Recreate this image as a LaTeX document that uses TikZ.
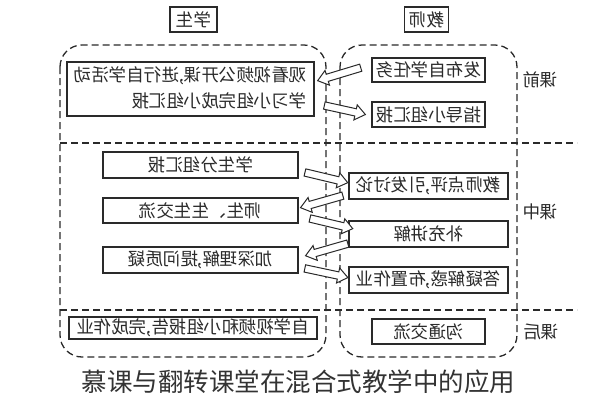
\documentclass[tikz,border=0pt]{standalone}
\usepackage{fontspec}
\usepackage{graphicx}
\newfontfamily\cjk{Noto Sans CJK SC}
\usetikzlibrary{shapes.arrows}
\definecolor{ink}{HTML}{2A2A2A}
\newcommand{\mir}[1]{\reflectbox{#1}}
\begin{document}
\begin{tikzpicture}[x=1pt,y=-1pt,
  every node/.style={font=\cjk\fontsize{17.5}{26}\selectfont, text=ink},
  tbox/.style={draw=ink, line width=1.1pt, inner sep=0pt, align=center},
  region/.style={draw=ink, line width=1.3pt, dash pattern=on 7pt off 4pt, rounded corners=22pt},
  sep/.style={draw=ink, line width=1.3pt, dash pattern=on 7pt off 4pt},
  barrow/.style={single arrow, draw=ink, fill=white, line width=1pt, inner sep=3.2pt,
    single arrow head extend=4pt, single arrow tip angle=75, minimum width=15pt, minimum height=44pt},
  lbl/.style={inner sep=0pt}
]
\useasboundingbox (0,0) rectangle (597,400);

% regions and separators
\draw[region] (60,45) rectangle (326,357);
\draw[region] (340,45) rectangle (517,357);
\coordinate (s1a) at (60,143); \coordinate (s1b) at (577,143);
\coordinate (s2a) at (60,310); \coordinate (s2b) at (577,310);
\draw[sep] (s1a) -- (s1b);
\draw[sep] (s2a) -- (s2b);

% headers
\node[tbox, minimum width=47pt, minimum height=25pt] (hs) at (193.5,19.5) {\mir{学生}};
\node[tbox, minimum width=44pt, minimum height=25pt] (ht) at (426.5,19.5) {\mir{教师}};

% student boxes
\node[tbox, minimum width=247pt, minimum height=54pt] (sA) at (190.5,89)
  {\mir{\begin{tabular}{@{}l@{}}观看视频公开课,进行自学活动\\学习小组完成小组汇报\end{tabular}}};
\node[tbox, minimum width=195pt, minimum height=26pt] (sB) at (200.5,165) {\mir{学生分组汇报}};
\node[tbox, minimum width=195pt, minimum height=25pt] (sC) at (200.5,210.5) {\mir{师生、生生交流}};
\node[tbox, minimum width=195pt, minimum height=26pt] (sD) at (200.5,260) {\mir{加深理解,提问质疑}};
\node[tbox, minimum width=248pt, minimum height=22pt] (sE) at (193,328) {\mir{自学视频和小组报告,完成作业}};

% teacher boxes
\node[tbox, minimum width=113pt, minimum height=24pt] (tA) at (428.5,70) {\mir{发布自学任务}};
\node[tbox, minimum width=113pt, minimum height=25pt] (tB) at (428.5,114.5) {\mir{指导小组汇报}};
\node[tbox, minimum width=159pt, minimum height=26pt] (tC) at (428.5,186) {\mir{教师点评,引发讨论}};
\node[tbox, minimum width=159pt, minimum height=26pt] (tD) at (428.5,234) {\mir{补充讲解}};
\node[tbox, minimum width=159pt, minimum height=26pt] (tE) at (428.5,280) {\mir{答疑解惑,布置作业}};
\node[tbox, minimum width=113pt, minimum height=25pt] (tF) at (428.5,331.5) {\mir{沟通交流}};

% phase labels
\node[lbl] (l1) at (540,80) {\mir{课前}};
\node[lbl] (l2) at (540,212) {\mir{课中}};
\node[lbl] (l3) at (541,332) {\mir{课后}};

% block arrows
\node[barrow, rotate=196.8, minimum height=45pt] (a1) at (341.5,73.5) {};
\node[barrow, rotate=-12.4, minimum height=42pt] (a2) at (342.5,109.5) {};
\node[barrow, rotate=-13.4] (a3) at (324,177) {};
\node[barrow, rotate=195.9] (a4) at (324,201) {};
\node[barrow, rotate=-13.4] (a5) at (329,223) {};
\node[barrow, rotate=196] (a6) at (329,249) {};
\node[barrow, rotate=-12] (a7) at (324,272.5) {};

% caption
\node[font=\cjk\fontsize{25.5}{30}\selectfont, text=black!80, inner sep=0pt] (cap) at (298.5,382) {慕课与翻转课堂在混合式教学中的应用};
\end{tikzpicture}
\end{document}
